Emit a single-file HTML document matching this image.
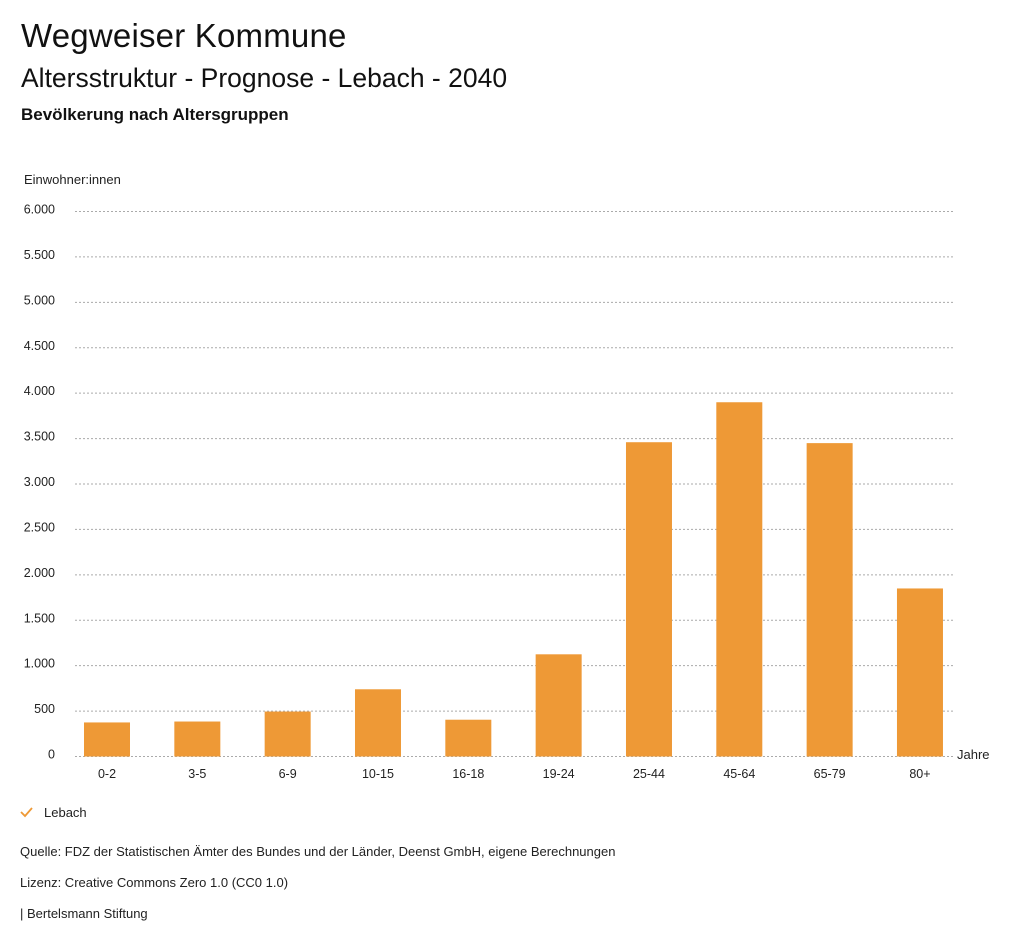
<!DOCTYPE html>
<html><head><meta charset="utf-8">
<style>
body{margin:0;background:#fff;width:1024px;height:946px;overflow:hidden;font-family:"Liberation Sans",sans-serif;color:#111;}
.t{position:absolute;left:21px;white-space:nowrap;}
</style></head><body>
<div class="t" style="top:17px;font-size:33px;letter-spacing:0.2px;">Wegweiser Kommune</div>
<div class="t" style="top:63px;font-size:26.5px;">Altersstruktur - Prognose - Lebach - 2040</div>
<div class="t" style="top:105px;font-size:17px;font-weight:bold;">Bevölkerung nach Altersgruppen</div>
<svg id="chart" width="1024" height="946" style="position:absolute;left:0;top:0" font-family="Liberation Sans, sans-serif"></svg>
<script>
const categories=["0-2","3-5","6-9","10-15","16-18","19-24","25-44","45-64","65-79","80+"];
const values=[375,385,495,740,405,1125,3460,3900,3450,1850];
const ticks=[0,500,1000,1500,2000,2500,3000,3500,4000,4500,5000,5500,6000];
const tickLabels=["0","500","1.000","1.500","2.000","2.500","3.000","3.500","4.000","4.500","5.000","5.500","6.000"];
const svg=document.getElementById('chart');
const NS='http://www.w3.org/2000/svg';
const y0=756.5,y1=211.5,yMax=6000;
function y(v){return y0-(v/yMax)*(y0-y1);}
const step=90.33,c0=107,bw=46;
function x(i){return c0+i*step;}
function mk(tag,attrs,txt){const e=document.createElementNS(NS,tag);for(const k in attrs)e.setAttribute(k,attrs[k]);if(txt!==undefined)e.textContent=txt;svg.appendChild(e);return e;}
ticks.forEach((t,i)=>{
  const l=mk('line',{x1:75,x2:953,y1:y(t),y2:y(t),stroke:'#aaa','stroke-dasharray':'2,2','stroke-width':1});
  
  
  const tx=mk('text',{x:55,y:y(t)+2,'text-anchor':'end','font-size':12.5,fill:'#222'},tickLabels[i]);
  
  
});
values.forEach((v,i)=>{
  const r=mk('rect',{x:x(i)-bw/2,y:y(v),width:bw,height:y0-y(v),fill:'#ee9936'});
  
  
  const tx=mk('text',{x:x(i),y:778,'text-anchor':'middle','font-size':12.5,fill:'#222'},categories[i]);
  
  
});
const yt=mk('text',{x:24,y:184,'font-size':13,fill:'#222'},'Einwohner:innen');


const xt=mk('text',{x:957,y:759,'font-size':13,fill:'#222'},'Jahre');


const ck=mk('path',{d:'M21 812 L25 816 L32 808',stroke:'#ee9936','stroke-width':1.8,fill:'none'});


const lg=mk('text',{x:44,y:817,'font-size':13,fill:'#222'},'Lebach');


[["Quelle: FDZ der Statistischen Ämter des Bundes und der Länder, Deenst GmbH, eigene Berechnungen",856,'source-note'],["Lizenz: Creative Commons Zero 1.0 (CC0 1.0)",887,'license-note'],["| Bertelsmann Stiftung",918,'credit-note']].forEach(a=>{
  const t=mk('text',{x:20,y:a[1],'font-size':13,fill:'#222'},a[0]);
  
  
});
</script>
</body></html>
